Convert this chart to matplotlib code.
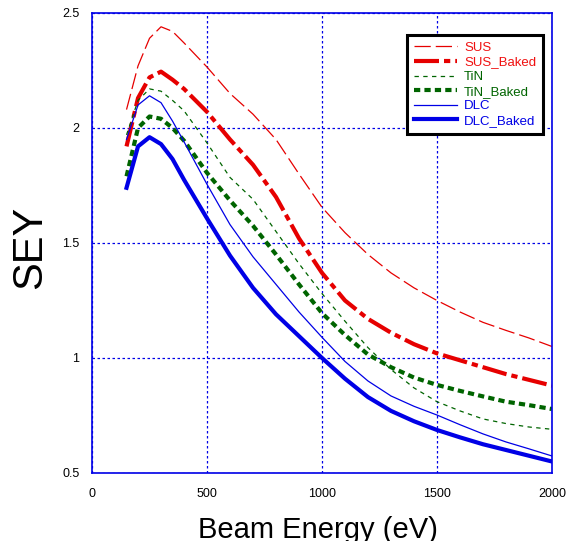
import matplotlib.pyplot as plt

# beam energy (eV) and SEY readings per sample
energy = [150, 200, 250, 300, 350, 400, 500, 600, 700, 800, 900, 1000,
          1100, 1200, 1300, 1400, 1500, 1600, 1700, 1800, 1900, 2000]

sus = [2.08, 2.27, 2.39, 2.44, 2.42, 2.37, 2.265, 2.15, 2.06, 1.95, 1.80, 1.655,
       1.545, 1.45, 1.37, 1.305, 1.25, 1.20, 1.155, 1.12, 1.087, 1.05]
sus_baked = [1.92, 2.13, 2.22, 2.245, 2.21, 2.17, 2.07, 1.95, 1.84, 1.70, 1.52, 1.37,
             1.25, 1.17, 1.11, 1.06, 1.02, 0.99, 0.96, 0.93, 0.905, 0.88]
tin = [1.97, 2.12, 2.17, 2.16, 2.12, 2.075, 1.935, 1.785, 1.69, 1.55, 1.41, 1.28,
       1.16, 1.045, 0.95, 0.87, 0.81, 0.77, 0.735, 0.715, 0.70, 0.69]
tin_baked = [1.79, 2.00, 2.05, 2.04, 2.00, 1.945, 1.805, 1.685, 1.575, 1.45, 1.32, 1.195,
             1.10, 1.015, 0.96, 0.915, 0.883, 0.857, 0.833, 0.81, 0.795, 0.778]
dlc = [1.95, 2.10, 2.14, 2.11, 2.03, 1.94, 1.755, 1.58, 1.44, 1.32, 1.20, 1.09,
       0.985, 0.90, 0.835, 0.79, 0.752, 0.71, 0.67, 0.635, 0.605, 0.574]
dlc_baked = [1.74, 1.92, 1.96, 1.93, 1.865, 1.775, 1.607, 1.445, 1.305, 1.19, 1.095, 1.0,
             0.91, 0.83, 0.77, 0.725, 0.687, 0.655, 0.625, 0.60, 0.575, 0.55]

red = '#e60000'
green = '#006400'
blue = '#0000e6'

plt.rcParams['font.family'] = ['Liberation Sans', 'DejaVu Sans']

fig = plt.figure(figsize=(5.67, 5.41), dpi=100)
ax = fig.add_axes([0.1623, 0.1257, 0.8112, 0.8503])

ax.plot(energy, sus, color=red, lw=0.9, linestyle=(0, (13, 4)), label='SUS')
ax.plot(energy, sus_baked, color=red, lw=3, linestyle=(0, (6, 1.2, 1.5, 1.2)), label='SUS_Baked')
ax.plot(energy, tin, color=green, lw=0.9, linestyle=(0, (3.5, 3.5)), label='TiN')
ax.plot(energy, tin_baked, color=green, lw=3, linestyle=(0, (1.5, 1.0)), label='TiN_Baked')
ax.plot(energy, dlc, color=blue, lw=0.9, label='DLC')
ax.plot(energy, dlc_baked, color=blue, lw=3, label='DLC_Baked')

ax.set_xlim(0, 2000)
ax.set_ylim(0.5, 2.5)
ax.set_xticks([0, 500, 1000, 1500, 2000])
ax.set_yticks([0.5, 1, 1.5, 2, 2.5])
ax.set_yticklabels(['0.5', '1', '1.5', '2', '2.5'])
ax.tick_params(length=0, labelsize=9)
ax.tick_params(axis='x', pad=11)
ax.tick_params(axis='y', pad=9)
ax.grid(True, color=blue, lw=0.9, linestyle=(0, (2, 2)))
for s in ax.spines.values():
    s.set_color(blue)
    s.set_linewidth(1.2)

ax.set_xlabel('Beam Energy (eV)', fontsize=21)
ax.xaxis.set_label_coords(0.492, -0.0935)
ax.set_ylabel('SEY', fontsize=30)
ax.yaxis.set_label_coords(-0.091, 0.49)

leg = ax.legend(loc='upper right', bbox_to_anchor=(0.980, 0.952), fontsize=9.5,
                fancybox=False, framealpha=1, handlelength=3.3, handletextpad=0.5,
                labelspacing=0.18, borderpad=0.5, borderaxespad=0)
leg.get_frame().set_edgecolor('black')
leg.get_frame().set_linewidth(2.2)
for txt, c in zip(leg.get_texts(), ['#f01010', '#f01010', green, green, blue, blue]):
    txt.set_color(c)

fig.savefig('out.png', dpi=100)
